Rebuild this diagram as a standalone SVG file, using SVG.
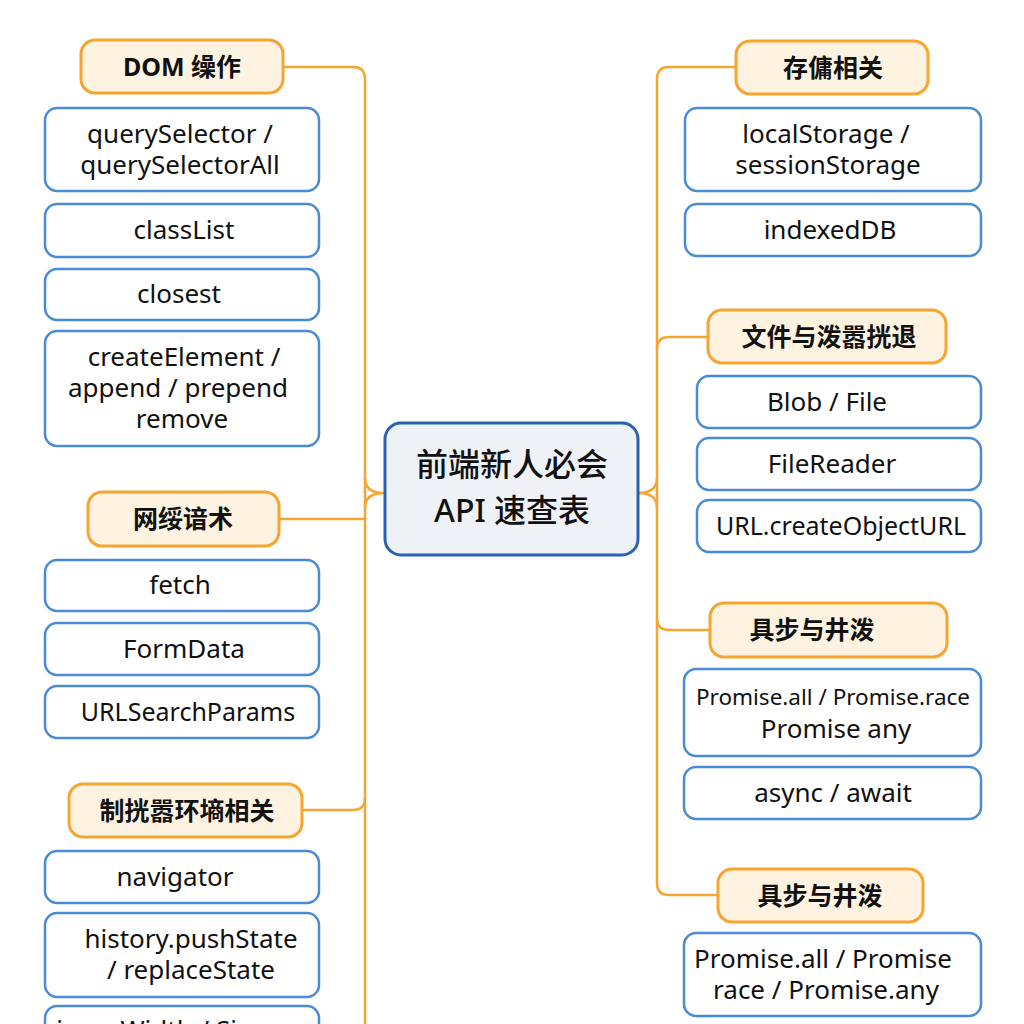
<svg xmlns="http://www.w3.org/2000/svg" width="1024" height="1024" viewBox="0 0 1024 1024">
<style>
.cat rect{fill:#fef3e1;stroke:#f6a530;stroke-width:3}
.leaf rect{fill:#ffffff;stroke:#4a8bd6;stroke-width:2.5}
.center rect{fill:#eef1f6;stroke:#2a62b2;stroke-width:3}
text{font-family:"Noto Sans","Liberation Sans","Noto Sans CJK SC",sans-serif;fill:#111;text-anchor:middle}
.cat text{font-size:25px;font-weight:700}
.leaf text{font-size:26px}
.center text{font-size:32px;font-weight:500}
.conn path{fill:none;stroke:#f6a530;stroke-width:2.5}
</style>
<rect width="1024" height="1024" fill="#ffffff"/>
<g class="conn" id="connectors">
<path d="M283,67 H353 Q365,67 365,79 V1024"/>
<path d="M279,519 H365"/>
<path d="M302,810 H353 Q365,810 365,798"/>
<path d="M365,478 Q365,493 384,493 Q365,493 365,508"/>
<path d="M736,67 H669 Q657,67 657,79 V883 Q657,895 669,895 H718"/>
<path d="M708,337 H669 Q657,337 657,349"/>
<path d="M710,630 H669 Q657,630 657,618"/>
<path d="M657,478 Q657,493 638,493 Q657,493 657,508"/>
</g>
<g class="center" id="root">
<rect x="385" y="423" width="253" height="132" rx="16"/>
<text x="512" y="476">前端新人必会</text>
<text x="512" y="522">API 速查表</text>
</g>
<g class="cat" id="cat-dom"><rect x="81" y="40" width="202" height="53" rx="14"/><text x="182" y="76">DOM 缲作</text></g>
<g class="leaf" id="n-qs"><rect x="45" y="108" width="274" height="83" rx="12"/><text x="180" y="143">querySelector /</text><text x="180" y="174">querySelectorAll</text></g>
<g class="leaf" id="n-classlist"><rect x="45" y="204" width="274" height="53" rx="12"/><text x="184" y="239">classList</text></g>
<g class="leaf" id="n-closest"><rect x="45" y="269" width="274" height="51" rx="12"/><text x="179" y="303">closest</text></g>
<g class="leaf" id="n-create"><rect x="45" y="331" width="274" height="115" rx="12"/><text x="184" y="366">createElement /</text><text x="178" y="397">append / prepend</text><text x="182" y="428">remove</text></g>
<g class="cat" id="cat-net"><rect x="88" y="492" width="191" height="54" rx="14"/><text x="183" y="528">网绥谙术</text></g>
<g class="leaf" id="n-fetch"><rect x="45" y="560" width="274" height="51" rx="12"/><text x="180" y="594">fetch</text></g>
<g class="leaf" id="n-formdata"><rect x="45" y="623" width="274" height="52" rx="12"/><text x="184" y="658">FormData</text></g>
<g class="leaf" id="n-usp"><rect x="45" y="686" width="274" height="52" rx="12"/><text x="188" y="721" style="font-size:25px">URLSearchParams</text></g>
<g class="cat" id="cat-browser"><rect x="69" y="784" width="233" height="53" rx="14"/><text x="187" y="820">制挄嚣环墒相关</text></g>
<g class="leaf" id="n-nav"><rect x="45" y="851" width="274" height="52" rx="12"/><text x="175" y="886">navigator</text></g>
<g class="leaf" id="n-history"><rect x="45" y="913" width="274" height="84" rx="12"/><text x="191" y="948">history.pushState</text><text x="191" y="979">/ replaceState</text></g>
<g class="leaf" id="n-last"><rect x="45" y="1006" width="274" height="60" rx="12"/><text x="160" y="1039">innerWidth / Size</text></g>
<g class="cat" id="cat-storage"><rect x="736" y="41" width="192" height="53" rx="14"/><text x="833" y="77">存傭相关</text></g>
<g class="leaf" id="n-ls"><rect x="685" y="108" width="296" height="83" rx="12"/><text x="826" y="143">localStorage /</text><text x="828" y="174">sessionStorage</text></g>
<g class="leaf" id="n-idb"><rect x="685" y="204" width="296" height="52" rx="12"/><text x="830" y="239">indexedDB</text></g>
<g class="cat" id="cat-file"><rect x="708" y="310" width="238" height="53" rx="14"/><text x="829" y="346">文件与泼嚣挄退</text></g>
<g class="leaf" id="n-blob"><rect x="697" y="376" width="284" height="52" rx="12"/><text x="827" y="411">Blob / File</text></g>
<g class="leaf" id="n-fr"><rect x="697" y="438" width="284" height="52" rx="12"/><text x="832" y="473">FileReader</text></g>
<g class="leaf" id="n-url"><rect x="697" y="500" width="284" height="52" rx="12"/><text x="841" y="535" style="font-size:25px">URL.createObjectURL</text></g>
<g class="cat" id="cat-async1"><rect x="710" y="603" width="237" height="54" rx="14"/><text x="812" y="639">具步与井泼</text></g>
<g class="leaf" id="n-promise1"><rect x="684" y="669" width="297" height="87" rx="12"/><text x="833" y="705" style="font-size:22.5px">Promise.all / Promise.race</text><text x="836" y="738">Promise any</text></g>
<g class="leaf" id="n-await"><rect x="684" y="767" width="297" height="52" rx="12"/><text x="833" y="802">async / await</text></g>
<g class="cat" id="cat-async2"><rect x="718" y="869" width="205" height="53" rx="14"/><text x="820" y="905">具步与井泼</text></g>
<g class="leaf" id="n-promise2"><rect x="684" y="933" width="297" height="83" rx="12"/><text x="823" y="968">Promise.all / Promise</text><text x="826" y="999">race / Promise.any</text></g>
</svg>
